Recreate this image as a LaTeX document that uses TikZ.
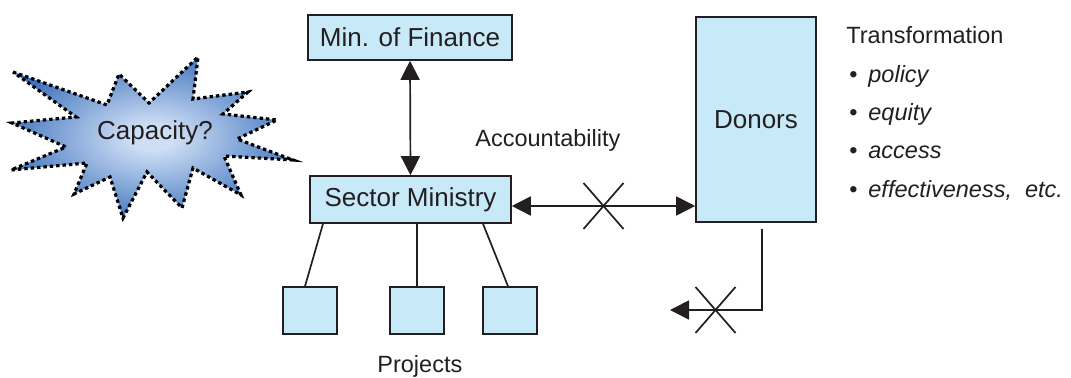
\documentclass[tikz,border=0pt]{standalone}
\usepackage{fontspec}
\setmainfont{Liberation Sans}
\usetikzlibrary{arrows.meta,calc,positioning,shadings}

\definecolor{boxblue}{RGB}{199,233,248}
\definecolor{inkgray}{RGB}{35,31,32}
\definecolor{starlight}{RGB}{205,222,245}
\definecolor{stardark}{RGB}{62,114,188}
\pgfdeclareradialshading{starshade}{\pgfpoint{0bp}{0bp}}{%
  color(0bp)=(starlight); color(4bp)=(starlight); color(27bp)=(stardark); color(50bp)=(stardark)}

\tikzset{
  box/.style={draw=inkgray, fill=boxblue, line width=0.8pt, inner sep=0pt,
    font=\fontsize{13}{15}\selectfont, text=inkgray},
  plain/.style={font=\fontsize{11.75}{14}\selectfont, text=inkgray, inner sep=0pt},
  link/.style={draw=inkgray, line width=0.85pt},
  tip/.style={-{Triangle[length=9.5pt,width=9.5pt]}},
  dbl/.style={{Triangle[length=9.5pt,width=9.5pt]}-{Triangle[length=9.5pt,width=9.5pt]}},
}

\begin{document}
\begin{tikzpicture}[x=0.5pt,y=-0.5pt]
    \useasboundingbox (0,0) rectangle (1071,378);
    % capacity star
    \shade[shading=starshade, draw=black, line width=1.6pt,
      dash pattern=on 1.7pt off 1.5pt]
      (13,72) -- (107,105) -- (119,74) -- (149,103) -- (198,57) -- (193,99)
      -- (248,92) -- (223,114) -- (277,120) -- (237,139) -- (293,160) -- (224,156)
      -- (241,195) -- (193,168) -- (182,208) -- (147,172) -- (123,218) -- (110,177)
      -- (74,194) -- (87,163) -- (11,170) -- (66,147) -- (12,123) -- (76,117) -- cycle;
    \node[font=\fontsize{13}{15}\selectfont, text=inkgray] (capacity) at (155,133) {Capacity?};
    % boxes
    \node[box, minimum width=102pt, minimum height=22.5pt] (finance) at (410,37.5) {Min. of Finance};
    \node[box, minimum width=100.5pt, minimum height=23.5pt] (sector) at (410.5,199.5) {Sector Ministry};
    \node[box, minimum width=60pt, minimum height=102.5pt] (donors) at (756,119.5) {Donors};
    \node[box, minimum width=27pt, minimum height=23.5pt] (proj1) at (310,310.5) {};
    \node[box, minimum width=27pt, minimum height=23.5pt] (proj2) at (417,310.5) {};
    \node[box, minimum width=27pt, minimum height=23.5pt] (proj3) at (510,310.5) {};
    % connectors
    \draw[link, dbl] (finance.south) -- (sector.north);
    \coordinate (acc) at ($(sector.east)+(0,6.5)$);
    \draw[link, dbl] (acc) -- (acc -| donors.west);
    \coordinate (X1) at ($(acc)!0.5!(acc -| donors.west)$);
    \draw[link] ($(X1)+(-20,-23)$) -- ($(X1)+(20,23)$);
    \draw[link] ($(X1)+(-20,23)$) -- ($(X1)+(20,-23)$);
    \coordinate (dstart) at ($(donors.south)+(6,6)$);
    \coordinate (dend) at (670,310);
    \draw[link, tip] (dstart) |- (dend);
    \coordinate (X2) at (715.5,310);
    \draw[link] ($(X2)+(-20,-23)$) -- ($(X2)+(20,23)$);
    \draw[link] ($(X2)+(-20,23)$) -- ($(X2)+(20,-23)$);
    \draw[link] ([xshift=-2.5pt]proj1.north) -- ([xshift=-43.75pt]sector.south);
    \draw[link] (proj2.north) -- (proj2.north |- sector.south);
    \draw[link] ([xshift=-1pt]proj3.north) -- ([xshift=36.25pt]sector.south);
    % labels
    \node[plain, anchor=base west] (acct) at (475,146.7) {Accountability};
    \node[plain, anchor=base west] (projects) at (377,373) {Projects};
    \node[plain, anchor=base west] (trans) at (846,43.3) {Transformation};
    \node[plain, anchor=base west] (policy) at (849,83) {\makebox[9.5pt][l]{\textbullet}\textit{policy}};
    \node[plain, anchor=base west] (equity) at (849,121) {\makebox[9.5pt][l]{\textbullet}\textit{equity}};
    \node[plain, anchor=base west] (access) at (849,159) {\makebox[9.5pt][l]{\textbullet}\textit{access}};
    \node[plain, anchor=base west] (effect) at (849,197.5) {\makebox[9.5pt][l]{\textbullet}\textit{effectiveness,\ \ etc.}};
\end{tikzpicture}
\end{document}
